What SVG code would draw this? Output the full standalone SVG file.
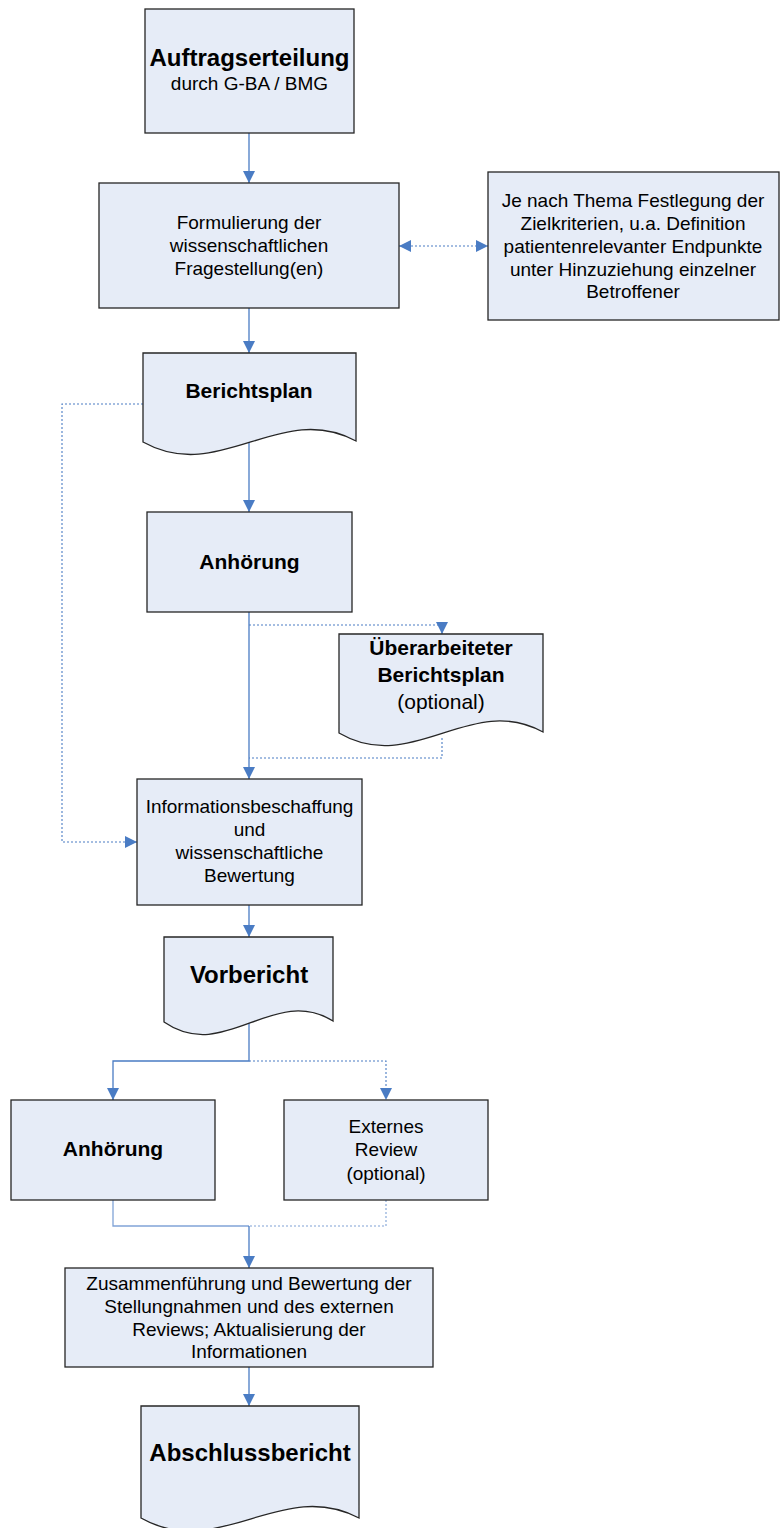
<svg xmlns="http://www.w3.org/2000/svg" width="780" height="1528" viewBox="0 0 780 1528">
<style>
.box{fill:#E6ECF7;stroke:#262626;stroke-width:1.3}
.t{font-family:"Liberation Sans",Arial,sans-serif;fill:#000;text-anchor:middle}
.r{font-size:19px}
.b{font-weight:bold}
.c{fill:none;stroke:#4A7CC4;stroke-width:1.3}
.d{fill:none;stroke:#4A7CC4;stroke-width:1.1;stroke-dasharray:2,2}
</style>
<defs>
<marker id="ah" markerUnits="userSpaceOnUse" markerWidth="12" markerHeight="12" refX="12" refY="6" orient="auto-start-reverse">
<path d="M0,0 L12,6 L0,12 z" fill="#4A7CC4"/>
</marker>
</defs>
<rect width="780" height="1528" fill="#fff"/>
<g id="connectors">
<path class="c" d="M249,133 V183" marker-end="url(#ah)"/>
<path class="d" d="M399,246 H488" marker-start="url(#ah)" marker-end="url(#ah)"/>
<path class="c" d="M249,308 V353" marker-end="url(#ah)"/>
<path class="c" d="M249,442 V512" marker-end="url(#ah)"/>
<path class="c" d="M249,612 V779" marker-end="url(#ah)"/>
<path class="d" d="M249,625 H442 V634" marker-end="url(#ah)"/>
<path class="d" d="M442,738 V758 H249"/>
<path class="d" d="M143,404 H62 V842 H137" marker-end="url(#ah)"/>
<path class="c" d="M249,905 V937" marker-end="url(#ah)"/>
<path class="c" d="M249,1022 V1061 H113 V1100" marker-end="url(#ah)"/>
<path class="d" d="M249,1061 H386 V1100" marker-end="url(#ah)"/>
<path class="c" d="M113,1200 V1226 H249" stroke-opacity="0.7"/>
<path class="d" d="M386,1200 V1226 H249" stroke-opacity="0.7"/>
<path class="c" d="M249,1226 V1268" marker-end="url(#ah)"/>
<path class="c" d="M249,1367 V1406" marker-end="url(#ah)"/>
</g>
<g id="n1">
<rect class="box" x="145" y="9" width="209" height="124"/>
<text class="t b" x="249.5" y="66" font-size="24">Auftragserteilung</text>
<text class="t r" x="249.5" y="90">durch G-BA / BMG</text>
</g>
<g id="n2">
<rect class="box" x="99" y="183" width="300" height="125"/>
<text class="t r" x="249" y="229">Formulierung der</text>
<text class="t r" x="249" y="252">wissenschaftlichen</text>
<text class="t r" x="249" y="275">Fragestellung(en)</text>
</g>
<g id="n3">
<rect class="box" x="488" y="172" width="291" height="148"/>
<text class="t r" x="633" y="207">Je nach Thema Festlegung der</text>
<text class="t r" x="633" y="230">Zielkriterien, u.a. Definition</text>
<text class="t r" x="633" y="253">patientenrelevanter Endpunkte</text>
<text class="t r" x="633" y="276">unter Hinzuziehung einzelner</text>
<text class="t r" x="633" y="298">Betroffener</text>
</g>
<g id="n4">
<path class="box" d="M143,353 H356 V441 C280,400 220,485 143,442 Z"/>
<text class="t b" x="249" y="398" font-size="21">Berichtsplan</text>
</g>
<g id="n5">
<rect class="box" x="147" y="512" width="205" height="100"/>
<text class="t b" x="249.5" y="569" font-size="21">Anhörung</text>
</g>
<g id="n6">
<path class="box" d="M339,634 H543 V732 C470,692 412,776 339,733 Z"/>
<text class="t b" x="441" y="655" font-size="21">Überarbeiteter</text>
<text class="t b" x="441" y="682" font-size="21">Berichtsplan</text>
<text class="t" x="441" y="709" font-size="21">(optional)</text>
</g>
<g id="n7">
<rect class="box" x="137" y="779" width="225" height="126"/>
<text class="t r" x="249.5" y="813">Informationsbeschaffung</text>
<text class="t r" x="249.5" y="836">und</text>
<text class="t r" x="249.5" y="859">wissenschaftliche</text>
<text class="t r" x="249.5" y="882">Bewertung</text>
</g>
<g id="n8">
<path class="box" d="M164,937 H333 V1021 C273,984 225,1064 164,1022 Z"/>
<text class="t b" x="249" y="983" font-size="24">Vorbericht</text>
</g>
<g id="n9">
<rect class="box" x="11" y="1100" width="204" height="100"/>
<text class="t b" x="113" y="1156" font-size="21">Anhörung</text>
</g>
<g id="n10">
<rect class="box" x="284" y="1100" width="204" height="100"/>
<text class="t r" x="386" y="1133">Externes</text>
<text class="t r" x="386" y="1156">Review</text>
<text class="t r" x="386" y="1180">(optional)</text>
</g>
<g id="n11">
<rect class="box" x="65" y="1268" width="368" height="99"/>
<text class="t r" x="249" y="1290">Zusammenführung und Bewertung der</text>
<text class="t r" x="249" y="1313">Stellungnahmen und des externen</text>
<text class="t r" x="249" y="1336">Reviews; Aktualisierung der</text>
<text class="t r" x="249" y="1358">Informationen</text>
</g>
<g id="n12">
<path class="box" d="M141,1406 H359 V1518 C281,1477 219,1562 141,1518 Z"/>
<text class="t b" x="250" y="1461" font-size="24">Abschlussbericht</text>
</g>
</svg>
